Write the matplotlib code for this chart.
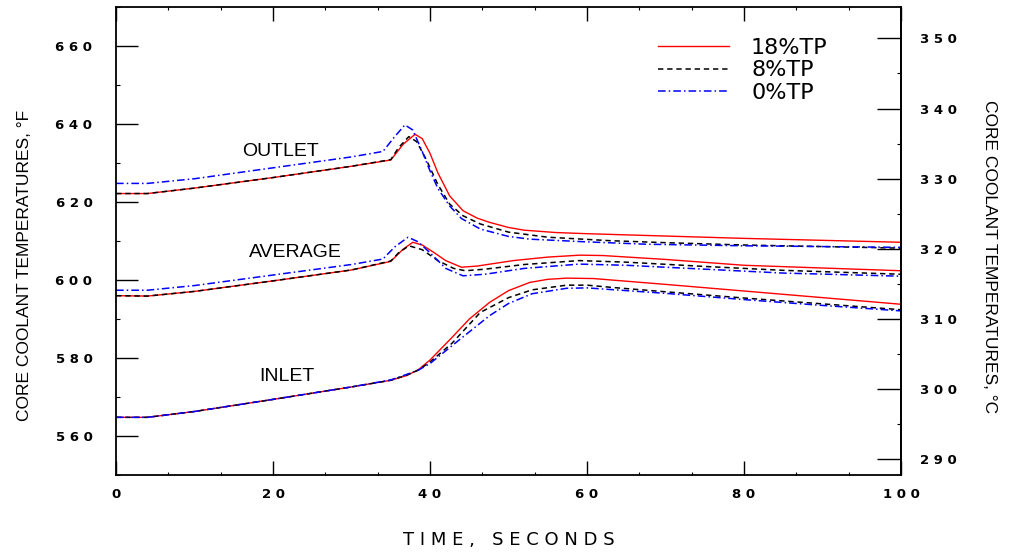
import matplotlib
matplotlib.use('Agg')
import matplotlib.pyplot as plt
from matplotlib.ticker import MultipleLocator

# series: time (s) and temperature (F)
# OUTLET
t_out_18 = [0, 4, 10, 20, 30, 35, 36.6, 38.1, 39, 40, 41, 42.5, 44.2, 46, 47.6, 50, 52, 56, 60, 70, 80, 90, 100]
f_out_18 = [622.2, 622.2, 623.6, 626.3, 629.2, 630.8, 634.9, 637.4, 636.3, 632.5, 627.5, 621.6, 617.8, 615.9, 614.8, 613.5, 612.8, 612.2, 611.9, 611.3, 610.7, 610.2, 609.7]
t_out_8 = [0, 4, 10, 20, 30, 35, 36, 37.3, 38.3, 39.5, 41, 42.5, 44.2, 46.4, 50, 55, 63, 70, 80, 90, 100]
f_out_8 = [622.2, 622.2, 623.6, 626.3, 629.2, 630.9, 634.0, 636.8, 635.5, 631.0, 624.5, 619.5, 616.5, 614.4, 612.3, 611.0, 610.1, 609.6, 609.0, 608.6, 608.2]
t_out_0 = [0, 4, 10, 20, 30, 34, 35.5, 36.8, 37.8, 39, 40, 41, 42.5, 44, 46.4, 50, 52.7, 60, 67.6, 80, 90, 100]
f_out_0 = [624.8, 624.8, 626.0, 628.8, 631.6, 633.0, 636.8, 639.8, 638.5, 633.0, 628.0, 623.5, 619.0, 615.8, 613.1, 611.2, 610.5, 609.8, 609.2, 608.8, 608.6, 608.4]

# AVERAGE
t_avg_18 = [0, 4, 10, 20, 30, 35, 36.5, 37.8, 39, 40.4, 42, 44, 46, 50.6, 55, 59.1, 62, 70, 80, 90, 100]
f_avg_18 = [596.0, 595.9, 597.1, 599.8, 602.6, 604.8, 607.8, 609.7, 609.0, 607.2, 605.0, 603.3, 603.6, 605.0, 605.9, 606.4, 606.3, 605.3, 603.8, 603.1, 602.4]
t_avg_8 = [0, 4, 10, 20, 30, 35, 36, 37.3, 39, 41, 43, 44.5, 47, 52, 59, 65, 75, 85, 100]
f_avg_8 = [596.0, 595.9, 597.1, 599.8, 602.6, 604.9, 607.0, 608.8, 607.8, 605.0, 603.0, 602.4, 602.8, 604.0, 605.0, 604.6, 603.5, 602.5, 601.5]
t_avg_0 = [0, 4, 10, 20, 30, 34, 35.5, 37.2, 38.5, 40, 42, 44.2, 47, 52, 59, 65, 75, 85, 100]
f_avg_0 = [597.4, 597.4, 598.6, 601.3, 604.0, 605.4, 608.5, 611.0, 609.8, 607.0, 603.0, 601.1, 601.5, 603.0, 604.1, 603.8, 602.8, 601.8, 601.0]

# INLET
t_in_18 = [0, 4, 10, 20, 30, 35, 37, 38.5, 40, 42.8, 45, 47.6, 50, 52.7, 55, 57.4, 60.8, 70, 80, 90, 100]
f_in_18 = [564.8, 564.8, 566.3, 569.4, 572.6, 574.3, 575.5, 577.0, 579.5, 585.3, 590.0, 594.3, 597.3, 599.4, 600.2, 600.5, 600.4, 598.9, 597.2, 595.5, 593.8]
t_in_8 = [0, 4, 10, 20, 30, 35, 37, 38.5, 40, 42.8, 46.4, 50, 53, 57.4, 60, 63.3, 70, 80, 90, 100]
f_in_8 = [564.8, 564.8, 566.3, 569.4, 572.6, 574.3, 575.6, 576.9, 579.0, 583.8, 591.7, 595.5, 597.5, 598.7, 598.7, 598.1, 597.0, 595.4, 593.9, 592.4]
t_in_0 = [0, 4, 10, 20, 30, 35, 37, 38.5, 40, 43, 47.6, 50, 53, 57.4, 60, 70, 80, 90, 100]
f_in_0 = [564.8, 564.8, 566.3, 569.4, 572.6, 574.4, 575.8, 576.9, 578.6, 583.5, 590.9, 594.0, 596.5, 597.9, 598.0, 596.6, 595.0, 593.5, 592.1]

f_ticks = [560, 580, 600, 620, 640, 660]
c_ticks = [290, 300, 310, 320, 330, 340, 350]
x_ticks = [0, 20, 40, 60, 80, 100]
legend_labels = ['18%TP', '8%TP', '0%TP']


def spaced(v):
    return ' '.join(str(v))


def f2c(f):
    return (f - 32.0) / 1.8


def c2f(c):
    return c * 1.8 + 32.0


fig = plt.figure(figsize=(10.1, 5.53), dpi=100)
ax = fig.add_axes([0.1149, 0.141, 0.7772, 0.846])

red = dict(color='#ff0000', lw=1.0, ls='-')
blk = dict(color='black', lw=1.1, ls=(0, (3.5, 2.5)))
blu = dict(color='#0000ff', lw=1.1, ls=(0, (5, 2, 1, 2)))

ax.plot(t_out_18, f_out_18, label=legend_labels[0], **red)
ax.plot(t_out_8, f_out_8, label=legend_labels[1], **blk)
ax.plot(t_out_0, f_out_0, label=legend_labels[2], **blu)
ax.plot(t_avg_18, f_avg_18, **red)
ax.plot(t_avg_8, f_avg_8, **blk)
ax.plot(t_avg_0, f_avg_0, **blu)
ax.plot(t_in_18, f_in_18, **red)
ax.plot(t_in_8, f_in_8, **blk)
ax.plot(t_in_0, f_in_0, **blu)

ax.set_xlim(0, 100)
ax.set_ylim(550, 670)

tick_font = dict(family='DejaVu Sans', weight='bold', size=9.5)
ax.set_xticks(x_ticks)
ax.set_xticklabels([spaced(v) for v in x_ticks], **tick_font)
ax.xaxis.set_minor_locator(MultipleLocator(20 / 3))
ax.set_yticks(f_ticks)
ax.set_yticklabels([spaced(v) for v in f_ticks], **tick_font)
ax.yaxis.set_minor_locator(MultipleLocator(10))
ax.tick_params(axis='x', which='major', direction='in', length=10, width=1, top=True, pad=9)
ax.tick_params(axis='x', which='minor', direction='in', length=2, width=0.8, top=True)
ax.tick_params(axis='y', which='major', direction='in', length=16, width=1, right=False, pad=17)
ax.tick_params(axis='y', which='minor', direction='in', length=3, width=0.8, right=False)
for s in ax.spines.values():
    s.set_linewidth(1.3)

ax2 = ax.secondary_yaxis('right', functions=(f2c, c2f))
ax2.set_yticks(c_ticks)
ax2.set_yticklabels([spaced(v) for v in c_ticks], **tick_font)
ax2.yaxis.set_minor_locator(MultipleLocator(5))
ax2.tick_params(axis='y', which='major', direction='in', length=17, width=1, pad=14)
ax2.tick_params(axis='y', which='minor', direction='in', length=3, width=0.8)
ax2.spines['right'].set_linewidth(1.3)

lab_font = dict(family='Liberation Sans', size=12.5)
ax.set_ylabel('CORE COOLANT TEMPERATURES, °F', **lab_font)
ax.yaxis.set_label_coords(-0.107, 0.449)
ax2.set_ylabel('CORE COOLANT TEMPERATURES, °C', rotation=-90, **lab_font)
ax2.yaxis.set_label_coords(1.122, 0.466, transform=ax.transAxes)
ax.set_xlabel('T I M E ,   S E C O N D S', family='DejaVu Sans', size=13, labelpad=22)

curve_font = dict(family='Liberation Sans', size=14, ha='center', va='center')
ax.text(20.9, 633.1, 'OUTLET', **curve_font)
ax.text(22.8, 607.2, 'AVERAGE', **curve_font)
ax.text(21.8, 575.4, 'INLET', **curve_font)

ax.legend(loc='upper left', bbox_to_anchor=(0.69, 0.934), frameon=False,
          prop=dict(family='DejaVu Sans', size=16), handlelength=3.2,
          handletextpad=1.0, labelspacing=0.1, borderpad=0, borderaxespad=0)

fig.savefig('out.png', dpi=100)
